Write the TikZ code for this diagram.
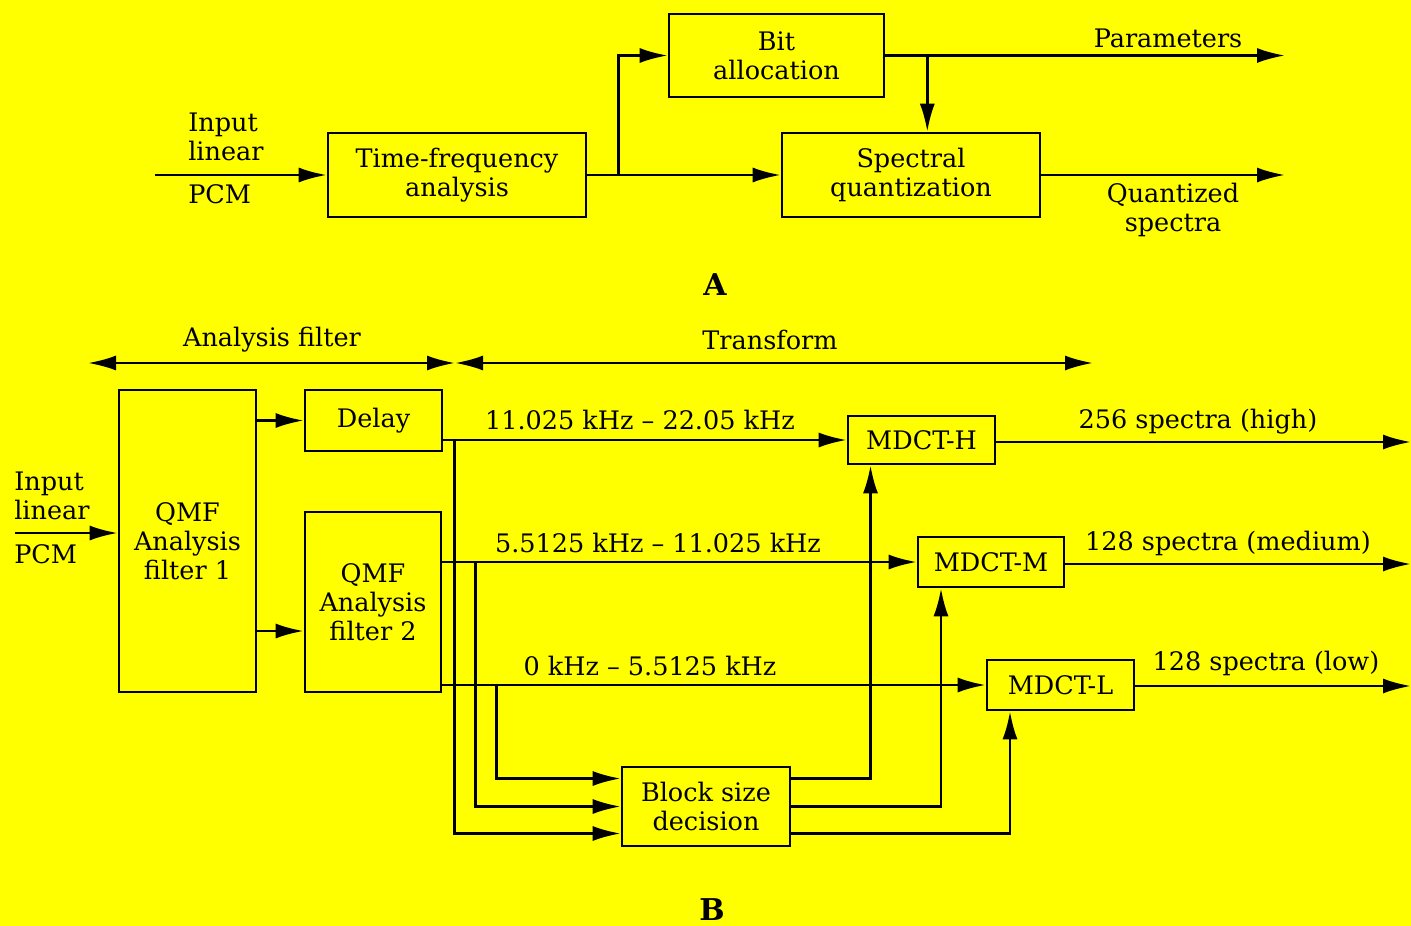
\documentclass[tikz,border=0pt]{standalone}
\usepackage{fontspec}
\setmainfont{DejaVu Serif}
\usetikzlibrary{arrows.meta,calc}
\definecolor{bgyel}{RGB}{255,255,0}
\newcommand\dlbl{\fontsize{25.5}{29}\selectfont}
\newcommand\dbig{\fontsize{30}{32}\selectfont\bfseries}
\begin{document}
\begin{tikzpicture}[x=1pt,y=-1pt,
  line width=2.6pt,
  >={Latex[length=28pt,width=15pt]},
  box/.style={draw,line width=2.6pt,inner sep=0pt,align=center,font=\dlbl},
  lbl/.style={inner sep=0pt,font=\dlbl,align=center},
  lbll/.style={inner sep=0pt,font=\dlbl,align=left,anchor=west}]
\useasboundingbox (0,0) rectangle (1411,926);
\fill[bgyel] (0,0) rectangle (1411,926);

% ---------- Part A ----------
\node[box,minimum width=258pt,minimum height=84pt] (tf) at (457,175) {Time-frequency\\analysis};
\node[box,minimum width=215pt,minimum height=83pt] (bit) at (776.5,55.5) {Bit\\allocation};
\node[box,minimum width=258pt,minimum height=84pt] (spec) at (911,175) {Spectral\\quantization};

\node[lbll] (inAt) at (187,137) {Input\\linear};
\node[lbll] (pcmA) at (187,194) {PCM};
\node[lbl] (par) at (1168,38) {Parameters};
\node[lbl] (qs) at (1173,210) {Quantized\\spectra};
\node[inner sep=0pt,font=\dbig] (labA) at (715,285) {A};

\coordinate (inA) at (155,175);
\coordinate (outP) at (1285,55.5);
\coordinate (outQ) at (1285,175);
\coordinate (brA) at ($(tf.east)+(31,0)$);
\coordinate (brB) at ($(bit.east)+(42,0)$);
\draw[->] (inA) -- (tf.west);
\draw[->] (tf.east) -- (spec.west);
\draw[->] (brA) |- (bit.west);
\draw[->] (bit.east) -- (outP);
\draw[->] (brB) -- (brB |- spec.north);
\draw[->] (spec.east) -- (outQ);

% ---------- Part B ----------
\node[lbl] (af) at (272,340) {Analysis filter};
\node[lbl] (tr) at (770,340) {Transform};
\coordinate (dl) at (88,363);
\coordinate (dm) at (455,363);
\coordinate (dr) at (1093,363);
\draw[<->] (dl) -- (dm);
\draw[<->] (dm) -- (dr);

\node[box,minimum width=137pt,minimum height=302pt] (qmf1) at (187.5,541) {QMF\\Analysis\\filter 1};
\node[box,minimum width=137pt,minimum height=61pt] (delay) at (373.5,420.5) {Delay};
\node[box,minimum width=136pt,minimum height=180pt] (qmf2) at (373,602) {QMF\\Analysis\\filter 2};
\node[box,minimum width=168pt,minimum height=79pt] (block) at (706,806.5) {Block size\\decision};
\node[box,minimum width=147pt,minimum height=48pt] (mh) at (921.5,440) {MDCT-H};
\node[box,minimum width=146pt,minimum height=50pt] (mm) at (991,562) {MDCT-M};
\node[box,minimum width=147pt,minimum height=50pt] (ml) at (1060.5,685) {MDCT-L};

\node[lbll] (inBt) at (13,496) {Input\\linear};
\node[lbll] (pcmB) at (13,554) {PCM};
\node[lbl] (f1) at (640,420) {11.025 kHz -- 22.05 kHz};
\node[lbl] (f2) at (658,543) {5.5125 kHz -- 11.025 kHz};
\node[lbl] (f3) at (650,666) {0 kHz -- 5.5125 kHz};
\node[lbl] (s1) at (1198,422) {256 spectra (high)};
\node[lbl] (s2) at (1228,543) {128 spectra (medium)};
\node[lbl] (s3) at (1266,663) {128 spectra (low)};
\node[inner sep=0pt,font=\dbig] (labB) at (712,910) {B};

\coordinate (inB) at (15,533);
\coordinate (q1b) at (256,631);
\coordinate (oH) at (1411,442);
\coordinate (oM) at (1411,564);
\coordinate (oL) at (1411,686);

\draw[->] (inB) -- (qmf1.west |- inB);
\draw[->] (qmf1.east |- delay.west) -- (delay.west);
\draw[->] (q1b) -- (qmf2.west |- q1b);

\draw[->] (delay.east |- mh.west) -- (mh.west);
\draw[->] (qmf2.east |- mm.west) -- (mm.west);
\draw[->] (qmf2.east |- ml.west) -- (ml.west);

\draw[->] ($(delay.east |- mh.west)+(11,0)$) |- ($(block.west)+(0,27)$);
\draw[->] ($(qmf2.east |- mm.west)+(33,0)$) |- (block.west);
\draw[->] ($(qmf2.east |- ml.west)+(54,0)$) |- ($(block.west)+(0,-28)$);

\draw[->] ($(block.east)+(0,-28)$) -| ($(mh.south)+(-51,0)$);
\draw[->] (block.east) -| ($(mm.south)+(-50,0)$);
\draw[->] ($(block.east)+(0,27)$) -| ($(ml.south)+(-50.5,0)$);

\draw[->] (mh.east |- oH) -- (oH);
\draw[->] (mm.east |- oM) -- (oM);
\draw[->] (ml.east |- oL) -- (oL);
\end{tikzpicture}
\end{document}
